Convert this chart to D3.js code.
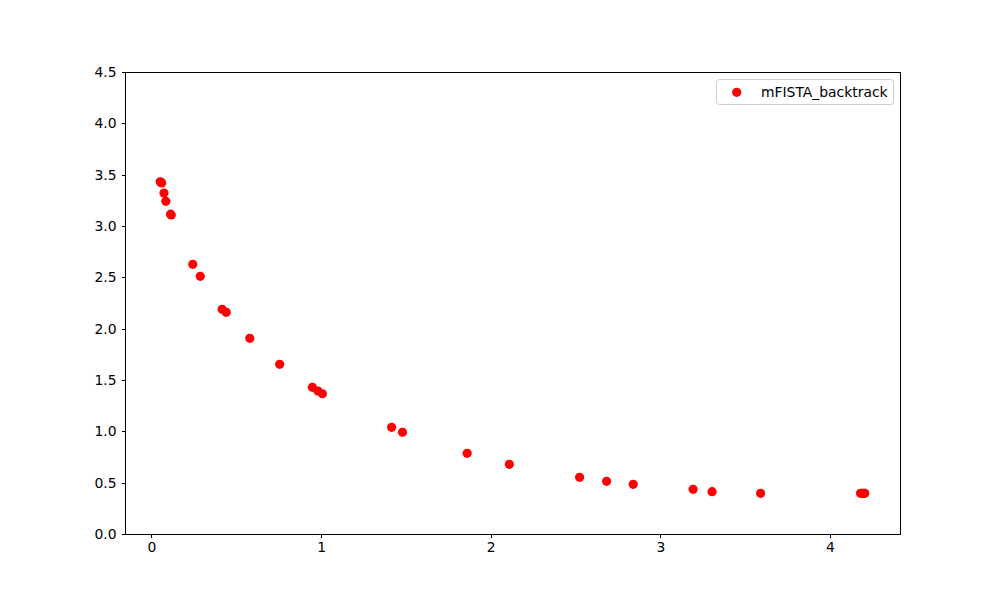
<html lang="en">
  <head>
    <script src="https://d3js.org/d3.v7.min.js"></script>
    <style>
      body { margin: 0; background: #fff; }
    </style>
  </head>
  <body>
    <div id="container"></div>
    <script>
      // values
      const iterTime = [0.052, 0.056, 0.060, 0.074, 0.085, 0.113, 0.117, 0.244, 0.288, 0.417, 0.441,
        0.580, 0.756, 0.949, 0.982, 1.008, 1.416, 1.480, 1.861, 2.110, 2.524, 2.683, 2.840,
        3.193, 3.305, 3.591, 4.180, 4.190, 4.200, 4.205]
      const objective = [3.430, 3.425, 3.420, 3.321, 3.240, 3.115, 3.108, 2.627, 2.510, 2.189, 2.159,
        1.906, 1.653, 1.429, 1.393, 1.366, 1.039, 0.991, 0.786, 0.679, 0.552, 0.513, 0.484,
        0.435, 0.412, 0.396, 0.397, 0.396, 0.396, 0.396]
      const seriesName = 'mFISTA_backtrack'
      const xTicks = [0, 1, 2, 3, 4]
      const yTicks = [0, 0.5, 1, 1.5, 2, 2.5, 3, 3.5, 4, 4.5]

      const W = 1000, H = 600
      const mLeft = 125, mRight = 900, mTop = 72, mBottom = 534
      const font = 'DejaVu Sans'

      let svg = d3.select('#container').append('svg')
        .attr('width', W)
        .attr('height', H)

      // matplotlib style 5% margin on x
      let xmin = d3.min(iterTime), xmax = d3.max(iterTime)
      let pad = (xmax - xmin) * 0.05
      let x = d3.scaleLinear().domain([xmin - pad, xmax + pad]).range([mLeft, mRight])
      let y = d3.scaleLinear().domain([0, 4.5]).range([mBottom, mTop])

      // points
      svg.append('g')
        .selectAll('circle')
        .data(iterTime.map((d, i) => [d, objective[i]]))
        .enter()
        .append('circle')
        .attr('cx', d => x(d[0]))
        .attr('cy', d => y(d[1]))
        .attr('r', 4.6)
        .attr('fill', '#ff0000')

      // axes
      let xAxis = svg.append('g')
        .attr('transform', `translate(0,${mBottom})`)
        .call(d3.axisBottom(x).tickValues(xTicks).tickFormat(d3.format('d')).tickSizeOuter(0).tickSize(3.5).tickPadding(4.9))
      let yAxis = svg.append('g')
        .attr('transform', `translate(${mLeft},0)`)
        .call(d3.axisLeft(y).tickValues(yTicks).tickFormat(d3.format('.1f')).tickSizeOuter(0).tickSize(3.5).tickPadding(4.9))
      for (let a of [xAxis, yAxis]) {
        a.select('.domain').remove()
        a.selectAll('line').attr('stroke', '#000').attr('stroke-width', 1).attr('shape-rendering', 'crispEdges')
        a.selectAll('text').attr('font-family', font).attr('font-size', 13.9).attr('fill', '#000')
      }

      // frame
      svg.append('rect')
        .attr('x', mLeft)
        .attr('y', mTop)
        .attr('width', mRight - mLeft)
        .attr('height', mBottom - mTop)
        .attr('fill', 'none')
        .attr('stroke', '#000')
        .attr('stroke-width', 1)
        .attr('shape-rendering', 'crispEdges')

      // legend
      let lg = svg.append('g')
      lg.append('rect')
        .attr('x', 716.5)
        .attr('y', 79.5)
        .attr('width', 177)
        .attr('height', 25)
        .attr('rx', 3)
        .attr('fill', '#fff')
        .attr('fill-opacity', 0.8)
        .attr('stroke', '#cccccc')
        .attr('stroke-width', 1)
      lg.append('circle')
        .attr('cx', 736.7)
        .attr('cy', 92.3)
        .attr('r', 4.6)
        .attr('fill', '#ff0000')
      lg.append('text')
        .attr('x', 761)
        .attr('y', 97.2)
        .attr('font-family', font)
        .attr('font-size', 13.9)
        .text(seriesName)
    </script>
  </body>
</html>
